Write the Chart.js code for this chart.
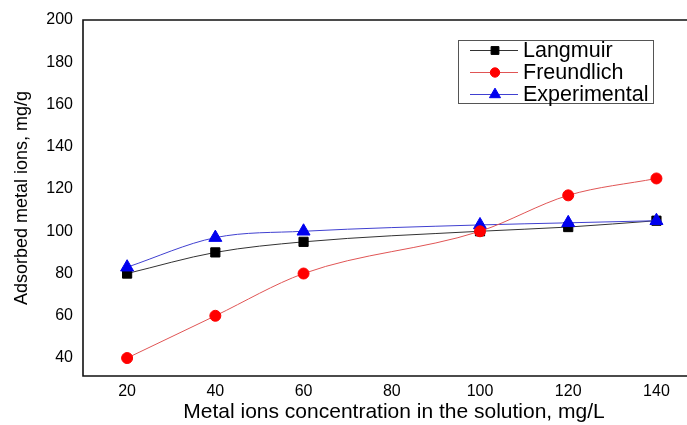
<!DOCTYPE html>
<html>
<head>
<meta charset="utf-8">
<script src="https://cdn.jsdelivr.net/npm/chart.js@4/dist/chart.umd.min.js"></script>
<style>
  html, body { margin: 0; padding: 0; background: #fff; }
  #wrap { width: 687px; height: 425px; }
</style>
</head>
<body>
<div id="wrap"><canvas id="isotherm"></canvas></div>
<script>
// Values
const concentrations = [20, 40, 60, 100, 120, 140];
const langmuir = [80, 90, 95, 100, 102, 105];
const freundlich = [40, 60, 80, 100, 117, 125];
const experimental = [83, 97, 100, 103, 104, 105];
const xTicks = [20, 40, 60, 80, 100, 120, 140];
const yTicks = [40, 60, 80, 100, 120, 140, 160, 180, 200];
const xTitle = 'Metal ions concentration in the solution, mg/L';

const FONT = '"Liberation Sans", Arial, sans-serif';
const toPoints = (ys) => ys.map((y, i) => ({ x: concentrations[i], y: y }));

// Boxed legend with a line through each marker, like the original plot
const boxLegend = {
  id: 'boxLegend',
  afterDraw(chart) {
    const ctx = chart.ctx;
    const x0 = 458, y0 = 40, w = 195, h = 63, rowH = 22;
    ctx.save();
    ctx.fillStyle = '#fff';
    ctx.fillRect(x0, y0, w, h);
    ctx.strokeStyle = '#555';
    ctx.lineWidth = 1;
    ctx.strokeRect(x0 + 0.5, y0 + 0.5, w, h);
    chart.data.datasets.forEach((ds, i) => {
      const cy = y0 + 10.5 + i * rowH;
      ctx.strokeStyle = ds.borderColor;
      ctx.lineWidth = 1;
      ctx.beginPath();
      ctx.moveTo(x0 + 12, cy);
      ctx.lineTo(x0 + 60, cy);
      ctx.stroke();
      ctx.fillStyle = ds.pointBackgroundColor;
      ctx.strokeStyle = ds.pointBorderColor;
      Chart.helpers.drawPoint(ctx, {
        pointStyle: ds.pointStyle,
        radius: ds.pointRadius * 0.85,
        borderWidth: 1
      }, x0 + 37, cy);
      ctx.fillStyle = '#000';
      ctx.font = '21.5px ' + FONT;
      ctx.textBaseline = 'middle';
      ctx.fillText(ds.label, x0 + 65, cy + 1);
    });
    ctx.restore();
  }
};

// Left, top and bottom lines of the frame (the right side is cut off), plus the x title
const frame = {
  id: 'frame',
  afterDatasetsDraw(chart) {
    const a = chart.chartArea;
    const ctx = chart.ctx;
    ctx.save();
    ctx.strokeStyle = '#111';
    ctx.lineWidth = 1.6;
    ctx.beginPath();
    ctx.moveTo(chart.width, a.top);
    ctx.lineTo(a.left, a.top);
    ctx.lineTo(a.left, a.bottom);
    ctx.lineTo(chart.width, a.bottom);
    ctx.stroke();
    ctx.fillStyle = '#000';
    ctx.font = '21px ' + FONT;
    ctx.textAlign = 'center';
    ctx.textBaseline = 'middle';
    ctx.fillText(xTitle, 394, 412);
    ctx.restore();
  }
};

const chart = new Chart(document.getElementById('isotherm'), {
  type: 'line',
  data: {
    datasets: [
      {
        label: 'Langmuir',
        data: toPoints(langmuir),
        borderColor: '#333',
        pointBackgroundColor: '#000',
        pointBorderColor: '#000',
        pointStyle: 'rect',
        pointRadius: 6.5,
        borderWidth: 1,
        pointBorderWidth: 1,
        order: 3
      },
      {
        label: 'Freundlich',
        data: toPoints(freundlich),
        borderColor: '#e05555',
        pointBackgroundColor: '#f00',
        pointBorderColor: '#f00',
        pointStyle: 'circle',
        pointRadius: 5.5,
        borderWidth: 1,
        pointBorderWidth: 1,
        order: 1
      },
      {
        label: 'Experimental',
        data: toPoints(experimental),
        borderColor: '#4040d0',
        pointBackgroundColor: '#0000ee',
        pointBorderColor: '#0000ee',
        pointStyle: 'triangle',
        pointRadius: 7.5,
        borderWidth: 1,
        pointBorderWidth: 1,
        order: 2
      }
    ]
  },
  options: {
    responsive: true,
    maintainAspectRatio: false,
    animation: false,
    layout: { padding: { top: 20, right: 0, left: 0, bottom: 0 } },
    elements: { line: { tension: 0.4, cubicInterpolationMode: 'monotone' } },
    plugins: {
      legend: { display: false },
      tooltip: { enabled: false }
    },
    scales: {
      x: {
        type: 'linear',
        min: 10,
        max: 145,
        grid: { display: false, drawTicks: false },
        border: { display: false },
        afterBuildTicks: (scale) => { scale.ticks = xTicks.map(v => ({ value: v })); },
        afterFit: (scale) => { scale.height = 49; },
        ticks: {
          color: '#000',
          padding: 6,
          font: { family: FONT, size: 16 }
        }
      },
      y: {
        min: 31.5,
        max: 200,
        grid: { display: false, drawTicks: false },
        border: { display: false },
        afterBuildTicks: (scale) => { scale.ticks = yTicks.map(v => ({ value: v })); },
        afterFit: (scale) => { scale.width = 83; },
        ticks: {
          color: '#000',
          padding: 10,
          font: { family: FONT, size: 16 }
        },
        title: {
          display: true,
          text: 'Adsorbed metal ions, mg/g',
          color: '#000',
          padding: { top: 11, bottom: 0 },
          font: { family: FONT, size: 18 }
        }
      }
    }
  },
  plugins: [frame, boxLegend]
});
</script>
</body>
</html>
